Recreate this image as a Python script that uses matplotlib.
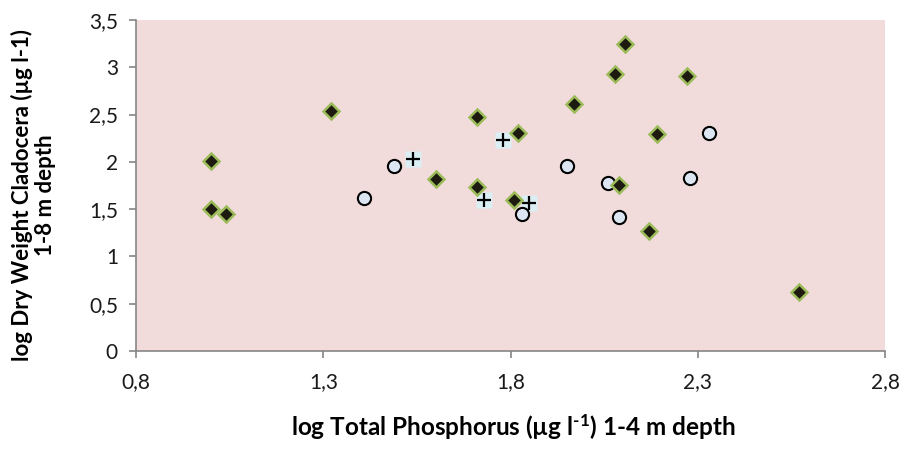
import numpy as np
import matplotlib.pyplot as plt
from matplotlib.ticker import FuncFormatter

plt.rcParams['font.family'] = ['Lato', 'DejaVu Sans']
plt.rcParams['mathtext.fontset'] = 'custom'
plt.rcParams['mathtext.rm'] = 'Lato:bold'
plt.rcParams['mathtext.bf'] = 'Lato:bold'
plt.rcParams['mathtext.default'] = 'rm'

# diamonds
dia_x = [1.00, 1.00, 1.04, 1.32, 1.71, 1.82, 1.60, 1.71, 1.81, 2.105, 2.08, 2.27, 1.97, 2.19, 2.09, 2.17, 2.57]
dia_y = [2.01, 1.50, 1.45, 2.54, 2.47, 2.31, 1.82, 1.73, 1.60, 3.25, 2.93, 2.91, 2.61, 2.29, 1.75, 1.27, 0.62]

# open circles
circ_x = [1.41, 1.49, 1.83, 1.95, 2.06, 2.09, 2.28, 2.33]
circ_y = [1.62, 1.96, 1.45, 1.96, 1.78, 1.42, 1.83, 2.31]

# crosses
plus_x = [1.54, 1.78, 1.73, 1.85]
plus_y = [2.03, 2.23, 1.60, 1.57]

xticks = [0.8, 1.3, 1.8, 2.3, 2.8]
yticks = [0, 0.5, 1, 1.5, 2, 2.5, 3, 3.5]

fig = plt.figure(figsize=(9.05, 4.51), dpi=100)
ax = fig.add_axes([0.1503, 0.2217, 0.8277, 0.734])
ax.set_facecolor('#F2DCDB')

ax.plot(plus_x, plus_y, 's', ms=12, mfc='#DAEEF3', mec='none', zorder=3)
ax.plot(plus_x, plus_y, '+', ms=10, mew=1.6, color='black', zorder=4)
ax.plot(circ_x, circ_y, 'o', ms=9.5, mfc='#DCE6F2', mec='black', mew=1.5, zorder=5)
ax.plot(dia_x, dia_y, 'D', ms=8, mfc='#1D1B10', mec='#9BBB59', mew=1.8, zorder=6)

ax.set_xlim(0.8, 2.8)
ax.set_ylim(0, 3.5)
ax.set_xticks(xticks)
ax.set_yticks(yticks)
fmt = FuncFormatter(lambda v, p: ('%g' % round(v, 2)).replace('.', ','))
ax.xaxis.set_major_formatter(fmt)
ax.yaxis.set_major_formatter(fmt)

for s in ['top', 'right']:
    ax.spines[s].set_visible(False)
for s in ['left', 'bottom']:
    ax.spines[s].set_color('#868686')
    ax.spines[s].set_linewidth(1.2)
ax.tick_params(direction='out', length=5, width=1.2, color='#868686',
               labelsize=15, labelcolor='#1a1a1a')
ax.tick_params(axis='x', pad=10)
ax.tick_params(axis='y', pad=8)

ax.set_xlabel(r'log Total Phosphorus (µg l$^{\text{-1}}$) 1-4 m depth',
              fontsize=17.5, fontweight='bold', va='top')
ax.xaxis.set_label_coords(0.503, -0.185)
ax.set_ylabel('log Dry Weight Cladocera (µg l-1)\n1-8 m depth',
              fontsize=16, fontweight='bold', linespacing=1.1)
ax.yaxis.set_label_coords(-0.107, 0.47)

fig.savefig('out.png', dpi=100)
